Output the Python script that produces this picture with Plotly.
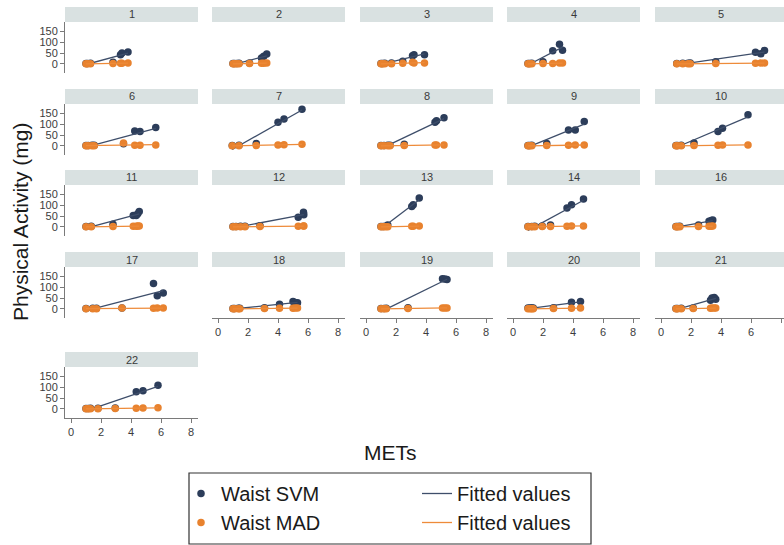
import numpy as np
import plotly.graph_objects as go

# ---------------- data ----------------
panel_ids = ["1", "2", "3", "4", "5", "6", "7", "8", "9", "10", "11",
             "12", "13", "14", "16", "17", "18", "19", "20", "21", "22"]

mets = [
    [1.0, 1.1, 1.3, 2.8, 3.3, 3.4, 3.8],
    [1.0, 1.1, 1.25, 1.4, 2.1, 2.9, 3.05, 3.25],
    [1.0, 1.1, 1.25, 1.7, 2.45, 3.1, 3.2, 3.9],
    [1.0, 1.1, 1.25, 2.0, 2.65, 3.1, 3.3],
    [1.05, 1.45, 1.8, 1.95, 3.65, 6.3, 6.65, 6.9],
    [1.0, 1.15, 1.4, 1.55, 3.5, 4.25, 4.6, 5.65],
    [0.95, 1.4, 2.55, 4.0, 4.4, 5.6],
    [1.0, 1.2, 1.45, 1.6, 2.55, 4.6, 4.7, 5.2],
    [1.0, 1.1, 1.25, 2.25, 3.7, 4.15, 4.75],
    [1.0, 1.1, 1.35, 2.2, 3.8, 4.1, 5.8],
    [1.0, 1.35, 2.8, 4.15, 4.35, 4.45, 4.55],
    [1.0, 1.2, 1.5, 1.8, 2.8, 5.35, 5.7, 5.72],
    [1.0, 1.15, 1.3, 1.45, 3.05, 3.15, 3.55],
    [1.0, 1.25, 1.45, 1.95, 2.5, 3.6, 3.9, 4.7],
    [1.0, 1.1, 1.25, 2.5, 3.2, 3.35, 3.45],
    [1.0, 1.45, 1.7, 3.4, 5.5, 5.75, 6.15],
    [1.0, 1.1, 1.35, 1.45, 3.1, 4.1, 5.0, 5.15, 5.3],
    [1.0, 1.2, 1.35, 2.8, 5.1, 5.25, 5.4],
    [1.0, 1.15, 1.25, 1.35, 2.7, 3.9, 4.5],
    [1.0, 1.1, 1.35, 2.15, 3.3, 3.4, 3.55, 3.65],
    [1.0, 1.15, 1.3, 1.8, 2.95, 4.35, 4.8, 5.8],
]

waist_svm = [
    [2, 2, 3, 8, 42, 50, 55],
    [2, 2, 2, 3, 5, 27, 35, 45],
    [2, 2, 3, 4, 12, 38, 42, 42],
    [2, 2, 3, 10, 60, 90, 62],
    [2, 3, 3, 4, 10, 53, 47, 61],
    [2, 2, 3, 3, 10, 68, 66, 84],
    [2, 3, 11, 108, 123, 167],
    [2, 2, 3, 3, 8, 108, 115, 128],
    [2, 2, 3, 11, 73, 73, 111],
    [2, 2, 3, 14, 66, 81, 142],
    [2, 3, 12, 52, 52, 60, 70],
    [2, 2, 3, 3, 6, 44, 67, 56],
    [2, 2, 3, 9, 93, 101, 132],
    [2, 2, 3, 4, 9, 86, 101, 127],
    [2, 2, 3, 9, 26, 30, 32],
    [2, 3, 3, 5, 116, 60, 73],
    [2, 2, 3, 3, 6, 22, 34, 30, 28],
    [2, 2, 3, 6, 138, 136, 134],
    [4, 5, 5, 4, 6, 31, 34],
    [2, 2, 3, 5, 40, 50, 52, 44],
    [2, 2, 3, 3, 5, 78, 83, 108],
]

waist_mad = [
    [1, 1, 1, 2, 3, 3, 4],
    [1, 1, 1, 1, 2, 3, 3, 4],
    [1, 1, 1, 1, 3, 8, 5, 4],
    [1, 1, 1, 2, 2, 4, 4],
    [1, 1, 1, 1, 2, 3, 4, 5],
    [1, 1, 1, 1, 14, 3, 3, 5],
    [1, 1, 2, 5, 6, 8],
    [1, 1, 1, 1, 2, 4, 4, 5],
    [1, 1, 1, 2, 3, 4, 5],
    [1, 1, 1, 2, 3, 4, 5],
    [1, 1, 2, 3, 3, 4, 4],
    [1, 1, 1, 1, 2, 3, 4, 4],
    [1, 1, 1, 1, 3, 3, 4],
    [1, 1, 1, 2, 2, 3, 4, 5],
    [1, 1, 1, 2, 3, 3, 4],
    [1, 1, 1, 5, 3, 4, 4],
    [1, 1, 1, 1, 2, 3, 3, 4, 4],
    [1, 1, 1, 2, 4, 5, 5],
    [1, 1, 1, 1, 2, 3, 4],
    [1, 1, 1, 2, 3, 4, 4, 4],
    [1, 1, 1, 1, 2, 3, 4, 6],
]

y_ticks = [0, 50, 100, 150]
x_ticks = [0, 2, 4, 6, 8]

# ---------------- style / layout ----------------
W, H = 784, 545
FONT = "Liberation Sans, Arial, sans-serif"
NAVY = "#2c3d5a"
NAVY_LINE = "#3e4e6a"
ORANGE = "#e8822e"
ORANGE_LINE = "#ee8b3a"
STRIP = "#d9e1e1"
AXIS_COL = "#7a7a7a"
TICK_FONT_COL = "#3c3c3c"

col_left = [65, 212, 360, 507, 655]
panel_w = 133
row_top = [22, 104, 185, 267, 367]   # plot-area top (px)
panel_h = 51
strip_h = 15
px_per_x = 15.0
x0 = -0.4
y_range = [-41, 191]

bottom_axis_panels = {16, 17, 18, 19, 20}

fig = go.Figure()
shapes = []
annotations = []
layout_axes = {}

for k, pid in enumerate(panel_ids):
    r, c = divmod(k, 5)
    n = k + 1
    xs = "" if n == 1 else str(n)
    left = col_left[c]
    right = min(left + panel_w, W)
    top = row_top[r]
    bottom = top + panel_h

    x = np.array(mets[k], dtype=float)
    ys = np.array(waist_svm[k], dtype=float)
    ym = np.array(waist_mad[k], dtype=float)
    xfit = np.array([x.min(), x.max()])
    bs = np.polyfit(x, ys, 1)
    bm = np.polyfit(x, ym, 1)

    show = (k == 0)
    fig.add_trace(go.Scatter(x=x, y=ys, mode="markers", name="Waist SVM",
                             marker=dict(color=NAVY, size=7.5),
                             legendgroup="pts", showlegend=show,
                             xaxis="x" + xs, yaxis="y" + xs))
    fig.add_trace(go.Scatter(x=xfit, y=np.polyval(bs, xfit), mode="lines",
                             name="Fitted values",
                             line=dict(color=NAVY_LINE, width=1.3),
                             legendgroup="fit", showlegend=show,
                             xaxis="x" + xs, yaxis="y" + xs))
    fig.add_trace(go.Scatter(x=x, y=ym, mode="markers", name="Waist MAD",
                             marker=dict(color=ORANGE, size=7.5),
                             legendgroup="pts", showlegend=show,
                             xaxis="x" + xs, yaxis="y" + xs))
    fig.add_trace(go.Scatter(x=xfit, y=np.polyval(bm, xfit), mode="lines",
                             name="Fitted values",
                             line=dict(color=ORANGE_LINE, width=1.3),
                             legendgroup="fit", showlegend=show,
                             xaxis="x" + xs, yaxis="y" + xs))

    show_x = k in bottom_axis_panels
    show_y = (c == 0)
    layout_axes["xaxis" + xs] = dict(
        domain=[left / W, right / W],
        range=[x0, x0 + (right - left) / px_per_x],
        anchor="y" + xs,
        showgrid=False, zeroline=False,
        showline=show_x, linecolor=AXIS_COL, linewidth=1,
        ticks="outside" if show_x else "", ticklen=4, tickcolor=AXIS_COL,
        tickvals=x_ticks, showticklabels=show_x,
        tickfont=dict(size=11, color=TICK_FONT_COL, family=FONT),
        fixedrange=True,
    )
    layout_axes["yaxis" + xs] = dict(
        domain=[1 - bottom / H, 1 - top / H],
        range=y_range,
        anchor="x" + xs,
        showgrid=False, zeroline=False,
        showline=show_y, linecolor=AXIS_COL, linewidth=1,
        ticks="outside" if show_y else "", ticklen=4, tickcolor=AXIS_COL,
        tickvals=y_ticks, showticklabels=show_y,
        tickfont=dict(size=11, color=TICK_FONT_COL, family=FONT),
        fixedrange=True,
    )

    # strip header
    s_top = top - strip_h
    shapes.append(dict(type="rect", xref="paper", yref="paper",
                       x0=left / W, x1=right / W,
                       y0=1 - top / H, y1=1 - s_top / H,
                       fillcolor=STRIP, line=dict(width=0), layer="below"))
    annotations.append(dict(text=pid, xref="paper", yref="paper",
                            x=(left + min(left + panel_w, W + 2)) / 2 / W,
                            y=1 - (s_top + strip_h / 2) / H,
                            xanchor="center", yanchor="middle",
                            showarrow=False,
                            font=dict(size=11, color="#3a3a3a", family=FONT)))

# axis titles
annotations.append(dict(text="METs", xref="paper", yref="paper",
                        x=390 / W, y=1 - 452 / H, xanchor="center",
                        yanchor="middle", showarrow=False,
                        font=dict(size=21, color="#1a1a1a", family=FONT)))
annotations.append(dict(text="Physical Activity (mg)", xref="paper",
                        yref="paper", x=20 / W, y=1 - 222 / H,
                        xanchor="center", yanchor="middle", textangle=-90,
                        showarrow=False,
                        font=dict(size=21, color="#1a1a1a", family=FONT)))

# legend frame
shapes.append(dict(type="rect", xref="paper", yref="paper",
                   x0=189 / W, x1=591 / W, y0=1 - 544 / H, y1=1 - 473 / H,
                   line=dict(color="#333333", width=1.2), fillcolor="rgba(0,0,0,0)"))

fig.update_layout(
    width=W, height=H,
    margin=dict(l=0, r=0, t=0, b=0, autoexpand=False),
    paper_bgcolor="white", plot_bgcolor="white",
    font=dict(family=FONT, color="#1a1a1a"),
    shapes=shapes, annotations=annotations,
    showlegend=True,
    legend=dict(orientation="h", traceorder="grouped",
                x=181 / W, y=1 - 474 / H, xanchor="left", yanchor="top",
                bgcolor="rgba(0,0,0,0)", borderwidth=0,
                font=dict(size=20, color="#1a1a1a", family=FONT),
                entrywidth=191, entrywidthmode="pixels",
                itemclick=False, itemdoubleclick=False),
    **layout_axes,
)

fig.write_html(
    "out.html",
    config={"displayModeBar": False},
    post_script="document.body.style.margin='0';document.body.style.overflow='hidden';",
)
